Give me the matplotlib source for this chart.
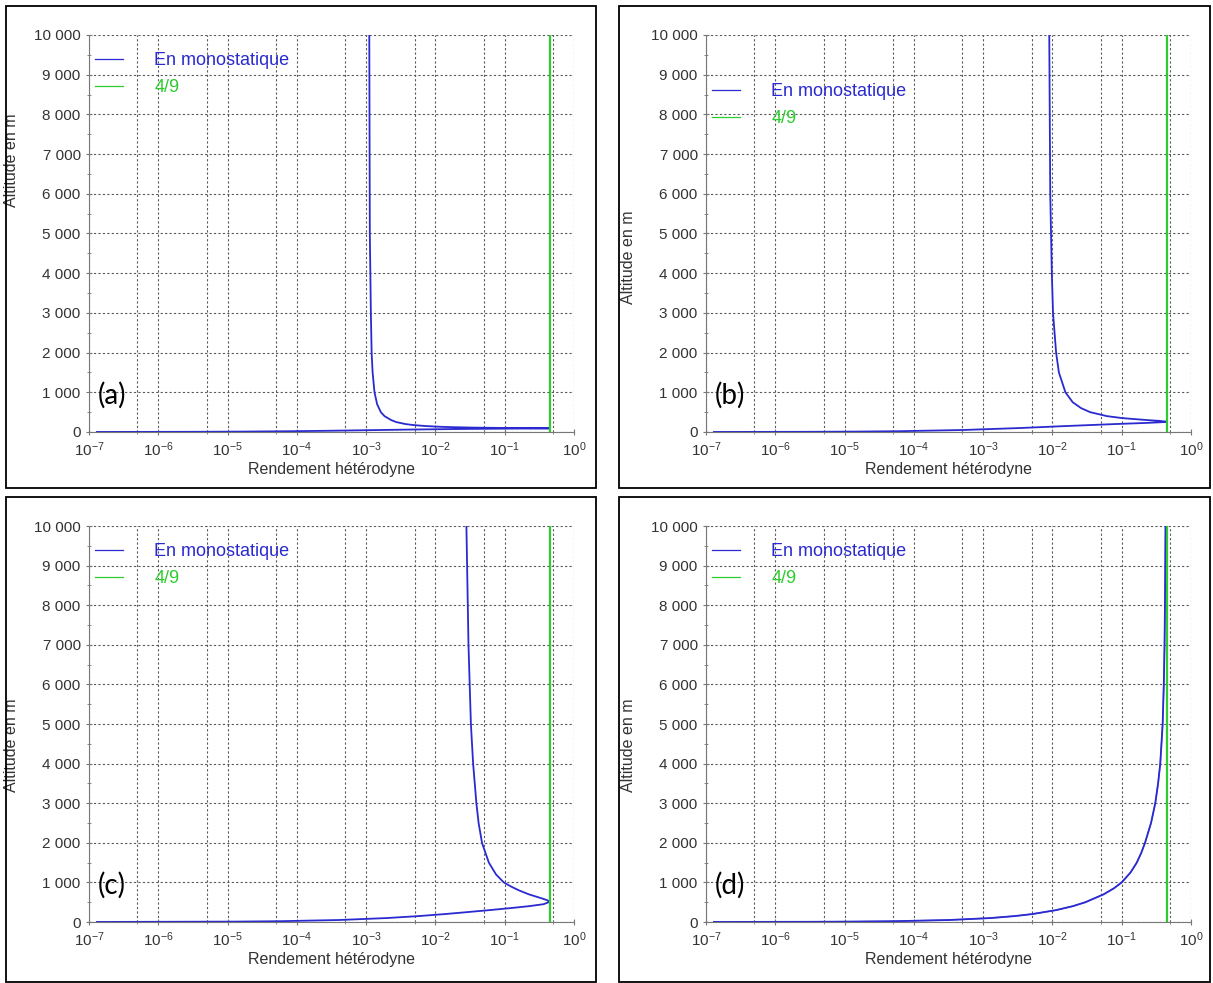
import numpy as np
import matplotlib
matplotlib.use("Agg")
import matplotlib.pyplot as plt
from matplotlib import ticker
from matplotlib.patches import Rectangle

plt.rcParams['font.family'] = ['Liberation Sans', 'DejaVu Sans']
plt.rcParams['mathtext.default'] = 'regular'

# values: altitude (m) and heterodyne efficiency
alt_a = [1, 5, 10, 20, 30, 40, 50, 60, 70, 75, 80, 85, 88, 92, 96, 100, 110, 120, 130,
         150, 175, 200, 250, 300, 400, 500, 700, 1000, 1500, 2000, 3000, 5000, 10000]
eff_a = [1.3e-7, 3.6e-6, 1.6e-5, 8.4e-5, 2.6e-4, 6.5e-4, 1.54e-3, 3.8e-3, 1.08e-2, 2.0e-2,
         4.4e-2, 0.118, 0.241, 0.444, 0.26, 0.123, 3.7e-2, 1.9e-2, 1.24e-2,
         7.2e-3, 4.8e-3, 3.7e-3, 2.72e-3, 2.3e-3, 1.84e-3, 1.63e-3, 1.44e-3, 1.32e-3,
         1.24e-3, 1.2e-3, 1.17e-3, 1.13e-3, 1.11e-3]

alt_b = [1, 5, 10, 20, 50, 100, 150, 200, 230, 250, 260, 280, 300, 350, 400, 500, 600,
         750, 1000, 1500, 2000, 3000, 4000, 6000, 10000]
eff_b = [1.3e-7, 3.4e-6, 1.4e-5, 6.1e-5, 5.0e-4, 3.4e-3, 1.56e-2, 8.0e-2, 0.238, 0.411,
         0.444, 0.352, 0.233, 0.102, 6.1e-2, 3.5e-2, 2.6e-2, 1.96e-2, 1.54e-2, 1.24e-2,
         1.13e-2, 1.02e-2, 9.8e-3, 9.3e-3, 9.0e-3]

alt_c = [1, 10, 20, 50, 100, 150, 200, 250, 300, 350, 400, 450, 508, 550, 600, 700, 800,
         900, 1000, 1200, 1500, 2000, 2500, 3000, 4000, 5000, 7000, 10000]
eff_c = [1.3e-7, 1.34e-5, 5.6e-5, 4.0e-4, 2.0e-3, 5.8e-3, 1.36e-2, 2.9e-2, 6.0e-2, 0.12,
         0.225, 0.364, 0.444, 0.412, 0.338, 0.222, 0.16, 0.122, 0.097, 7.5e-2, 5.9e-2,
         4.7e-2, 4.2e-2, 3.9e-2, 3.5e-2, 3.25e-2, 3.0e-2, 2.8e-2]

alt_d = [1, 5, 10, 20, 50, 100, 150, 200, 300, 400, 500, 700, 850, 1000, 1250, 1500, 1750,
         2000, 2500, 3000, 3500, 4000, 5000, 6000, 7000, 8000, 10000]
eff_d = [1.3e-7, 3.2e-6, 1.3e-5, 5.2e-5, 3.2e-4, 1.29e-3, 2.87e-3, 5.1e-3, 1.13e-2,
         1.97e-2, 3.0e-2, 5.5e-2, 7.7e-2, 0.1, 0.134, 0.165, 0.192, 0.217, 0.265, 0.305,
         0.335, 0.36, 0.39, 0.405, 0.415, 0.421, 0.429]

limit = 4 / 9
panels = ['(a)', '(b)', '(c)', '(d)']
series = [(alt_a, eff_a), (alt_b, eff_b), (alt_c, eff_c), (alt_d, eff_d)]

W, H = 1213, 983
fig = plt.figure(figsize=(W / 100, H / 100), dpi=100)

# axes boxes in pixels: left, top, right, bottom
boxes = [(89, 35, 574, 432), (706, 35, 1191, 432), (89, 526, 574, 922), (706, 526, 1191, 922)]
frames = [(6, 6, 596, 488), (619, 6, 1210, 488), (6, 497, 596, 982), (619, 497, 1210, 982)]
legend_y = [0.957, 0.879, 0.957, 0.957]
ylabel_y = [0.685, 0.44, 0.447, 0.447]

for i in range(4):
    l, t, r, b = boxes[i]
    ax = fig.add_axes([l / W, 1 - b / H, (r - l) / W, (b - t) / H])
    alt, eff = series[i]
    ax.plot(eff, alt, color='#2a2ad0', lw=1.3, label='En monostatique')
    ax.axvline(limit, color='#2ecc2e', lw=1.6, label='4/9')
    if i == 3:
        ax.plot(eff, alt, color='#2a2ad0', lw=1.0, alpha=0.6)

    ax.set_xscale('log')
    ax.set_xlim(1e-7, 1)
    ax.set_ylim(0, 10000)
    ax.xaxis.set_major_locator(ticker.LogLocator(base=10, numticks=10))
    ax.xaxis.set_minor_locator(ticker.LogLocator(base=10, subs=[5], numticks=10))
    ax.xaxis.set_minor_formatter(ticker.NullFormatter())
    ax.yaxis.set_major_locator(ticker.MultipleLocator(1000))
    ax.yaxis.set_minor_locator(ticker.MultipleLocator(500))
    ax.yaxis.set_major_formatter(ticker.FuncFormatter(lambda v, p: f"{int(v):,}".replace(",", " ")))

    ax.grid(True, which='major', color='#5a5a5a', linestyle=(0, (2, 2)), lw=0.8)
    ax.xaxis.grid(True, which='minor', color='#5a5a5a', linestyle=(0, (2, 2)), lw=0.8)
    for side in ['top', 'right']:
        ax.spines[side].set_visible(False)
    for side in ['left', 'bottom']:
        ax.spines[side].set_color('#777777')
    ax.tick_params(which='major', direction='inout', length=5, color='#777777',
                   labelsize=11, labelcolor='#333333')
    ax.tick_params(which='minor', direction='inout', length=3, color='#777777')

    ax.set_xlabel('Rendement hétérodyne', fontsize=11.5, color='#333333', labelpad=2)
    ax.set_ylabel('Altitude en m', fontsize=11.5, color='#333333', labelpad=6)
    ax.yaxis.set_label_coords(-0.145, ylabel_y[i])

    leg = ax.legend(loc='upper left', bbox_to_anchor=(0.012, legend_y[i]), frameon=False,
                    fontsize=13, labelcolor='linecolor', handlelength=1.55,
                    handletextpad=1.75, labelspacing=0.55, borderpad=0, borderaxespad=0)
    for line in leg.get_lines():
        line.set_linewidth(0.9)

    ax.text(0.018, 0.093, panels[i], transform=ax.transAxes, fontsize=20,
            family=['Lato', 'DejaVu Sans'], va='center', ha='left', color='black')

    fl, ft, fr, fb = frames[i]
    fig.patches.append(Rectangle((fl / W, 1 - fb / H), (fr - fl) / W, (fb - ft) / H,
                                 transform=fig.transFigure, fill=False,
                                 edgecolor='black', lw=1.3))

fig.savefig('out.png', dpi=100)
